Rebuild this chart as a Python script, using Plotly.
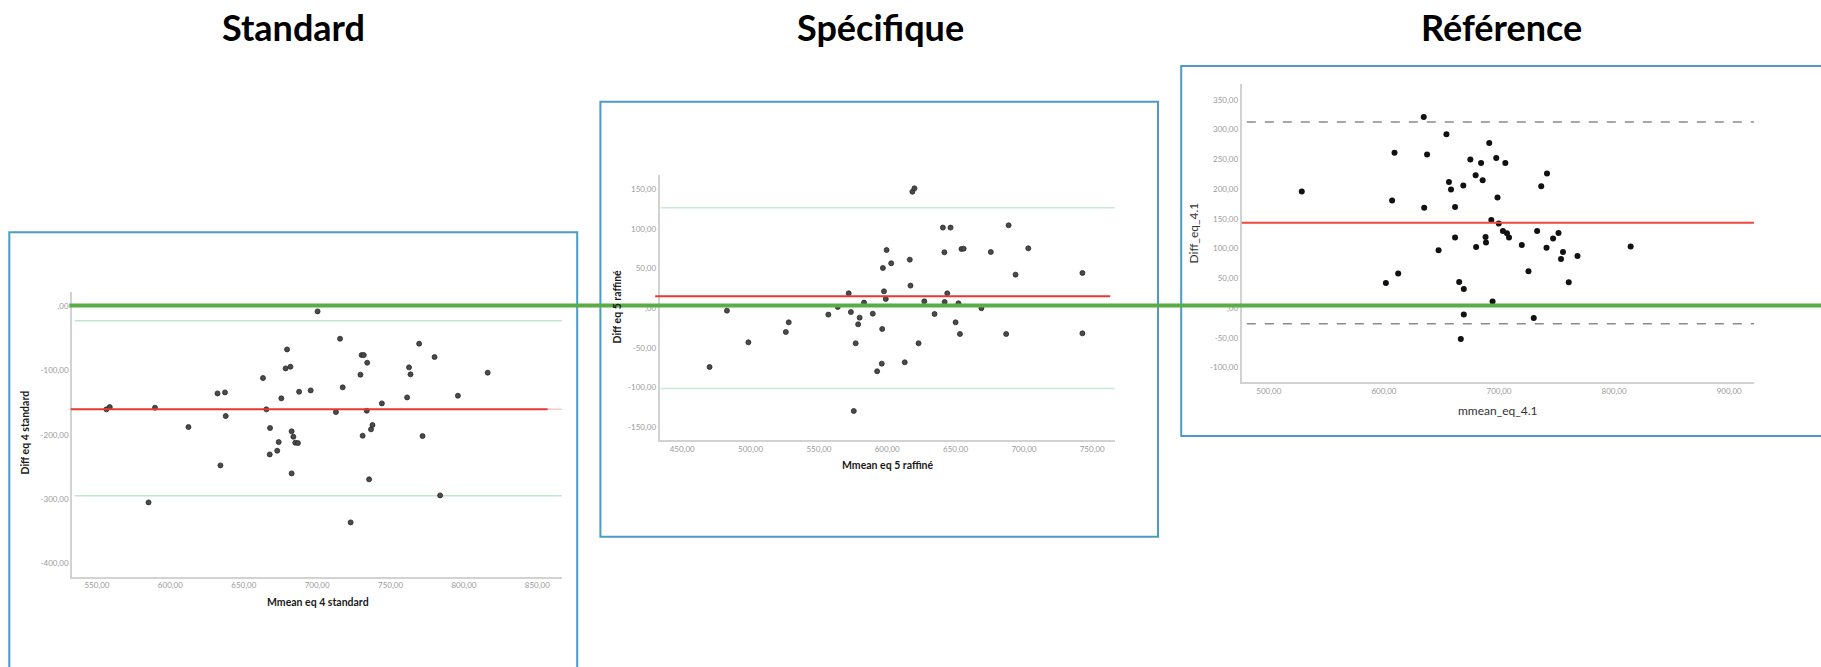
import plotly.graph_objects as go

W, H = 1821, 667

# ---------------- data ----------------
std_mean = [556.4, 558.7, 589.5, 585.1, 612.3, 632.1, 637.2, 637.7, 634.1, 663.1,
            665.4, 667.9, 667.7, 672.8, 673.8, 675.6, 678.5, 681.8, 679.5, 682.6,
            683.8, 685.1, 686.9, 682.6, 687.7, 695.6, 700.3, 712.8, 715.6, 717.4,
            722.8, 729.5, 730.3, 731.8, 734.1, 733.8, 731.0, 737.7, 736.7, 735.4,
            744.1, 761.3, 762.6, 763.6, 769.5, 771.8, 780.0, 783.8, 795.9, 816.2]
std_diff = [-160.6, -157.0, -158.0, -305.2, -188.1, -135.8, -134.2, -171.0, -247.7, -111.9,
            -160.6, -189.6, -230.6, -224.9, -211.4, -143.5, -96.9, -94.3, -67.4, -194.8,
            -203.1, -212.4, -213.0, -260.1, -133.2, -131.1, -8.3, -164.8, -50.8, -126.4,
            -336.3, -106.7, -76.2, -76.2, -88.1, -162.7, -201.6, -185.0, -191.7, -269.4,
            -151.3, -142.0, -95.3, -106.2, -58.5, -202.1, -79.3, -294.3, -139.4, -103.6]
std_bias = -160.6
std_loa = [-22.8, -294.8]

spe_mean = [470.0, 482.7, 498.4, 525.8, 527.9, 556.9, 563.8, 571.8, 573.4, 575.5,
            576.9, 578.7, 579.8, 583.0, 589.4, 592.6, 596.0, 596.3, 596.8, 597.6,
            598.9, 599.5, 602.9, 612.8, 616.5, 617.0, 618.4, 619.9, 622.9, 627.1,
            634.6, 640.7, 646.3, 641.8, 642.0, 643.9, 650.0, 652.1, 653.2, 654.3,
            655.9, 668.9, 675.8, 687.0, 688.8, 693.9, 703.2, 742.8, 742.8]
spe_diff = [-74.0, -3.1, -43.0, -30.0, -17.8, -8.1, 1.5, 18.7, -4.9, -129.4,
            -44.2, -20.3, -11.9, 7.0, -6.9, -79.4, -69.8, -26.2, 50.6, 21.2,
            11.6, 73.2, 56.5, -68.1, 61.1, 28.4, 146.6, 150.8, -44.2, 8.6,
            -7.3, 101.4, 101.4, 70.3, 7.8, 18.7, -17.8, 6.1, -32.5, 74.5,
            74.9, 0.0, 70.7, -32.5, 104.3, 42.2, 75.3, 44.3, -31.7]
spe_bias = 14.9
spe_loa = [126.5, -101.2]

ref_mean = [528.6, 601.7, 607.1, 609.2, 612.4, 634.6, 635.0, 637.5, 647.5, 654.3,
            656.5, 658.3, 661.8, 661.8, 665.4, 666.8, 669.0, 669.4, 669.4, 675.1,
            679.7, 680.1, 684.4, 685.8, 688.3, 688.7, 691.5, 693.3, 694.4, 697.6,
            698.7, 699.8, 703.4, 705.5, 706.9, 708.7, 719.8, 725.6, 730.2, 733.1,
            736.7, 741.3, 741.7, 747.0, 751.7, 753.9, 755.6, 760.6, 768.2, 814.4]
ref_diff = [195.9, 42.3, 180.7, 261.4, 58.0, 321.4, 168.9, 258.1, 97.2, 292.2,
            212.1, 199.2, 170.1, 118.5, 43.9, -51.8, 206.0, 32.2, -10.9, 249.7,
            223.4, 102.8, 244.1, 214.9, 119.6, 110.1, 277.7, 148.2, 10.9, 252.5,
            185.8, 142.1, 129.7, 244.1, 125.8, 118.5, 106.2, 61.9, -16.6, 129.7,
            204.8, 101.6, 226.1, 116.8, 126.3, 82.6, 94.4, 43.4, 87.7, 103.4]
ref_bias = 143.7
ref_loa = [313.0, -26.2]

titles = ["Standard", "Spécifique", "Référence"]
x_titles = ["Mmean eq 4 standard", "Mmean eq 5 raffiné", "mmean_eq_4.1"]
y_titles = ["Diff eq 4 standard", "Diff eq 5 raffiné", "Diff_eq_4.1"]

std_xticks = [550, 600, 650, 700, 750, 800, 850]
std_yticks = [-400, -300, -200, -100, 0]
spe_xticks = [450, 500, 550, 600, 650, 700, 750]
spe_yticks = [-150, -100, -50, 0, 50, 100, 150]
ref_xticks = [500, 600, 700, 800, 900]
ref_yticks = [-100, -50, 0, 50, 100, 150, 200, 250, 300, 350]


def fx(px):
    return px / W


def fy(py):
    return 1 - py / H


def fmt(v):
    if v == 0:
        return ",00"
    s = f"{abs(v):.2f}".replace(".", ",")
    return ("-" if v < 0 else "") + s


FONT = "Lato"
fig = go.Figure()

# axes placement in pixels: (left, right, top, bottom), data ranges
panels = [
    dict(px=(72.2, 561.8, 291.7, 576.7), xr=[533.1, 866.7], yr=[-420.7, 22.3],
         xt=std_xticks, yt=std_yticks, xs=std_mean, ys=std_diff),
    dict(px=(659.7, 1114.8, 175.0, 440.0), xr=[433.5, 766.5], yr=[-165.9, 167.6],
         xt=spe_xticks, yt=spe_yticks, xs=spe_mean, ys=spe_diff),
    dict(px=(1241.7, 1753.9, 84.3, 382.3), xr=[476.4, 921.5], yr=[-124.8, 376.3],
         xt=ref_xticks, yt=ref_yticks, xs=ref_mean, ys=ref_diff),
]

for i, p in enumerate(panels):
    n = "" if i == 0 else str(i + 1)
    l, r, t, b = p["px"]
    axis_common = dict(showline=True, linecolor="#d2d2d2", linewidth=2,
                       showgrid=False, zeroline=False, ticks="",
                       tickfont=dict(family=FONT, size=8, color="#9a9a9a"),
                       fixedrange=True)
    fig.update_layout(**{
        f"xaxis{n}": dict(domain=[fx(l), fx(r)], range=p["xr"], anchor=f"y{n}",
                          tickvals=p["xt"], ticktext=[fmt(v) for v in p["xt"]],
                          **axis_common),
        f"yaxis{n}": dict(domain=[fy(b), fy(t)], range=p["yr"], anchor=f"x{n}",
                          tickvals=p["yt"], ticktext=[fmt(v) for v in p["yt"]],
                          **axis_common),
    })
    if i < 2:
        marker = dict(size=5, color="#4a4a4a", line=dict(color="#2a2a2a", width=0.8))
    else:
        marker = dict(size=6, color="#111111")
    fig.add_trace(go.Scatter(x=p["xs"], y=p["ys"], mode="markers", marker=marker,
                             xaxis=f"x{n}", yaxis=f"y{n}", showlegend=False,
                             hoverinfo="skip"))

# limits of agreement and mean difference
for val in std_loa:
    fig.add_shape(type="line", xref="x domain", yref="y", x0=0.005, x1=1, y0=val, y1=val,
                  line=dict(color="#bfe8cc", width=1.5), layer="below")
fig.add_shape(type="line", xref="x domain", yref="y", x0=0.97, x1=1, y0=std_bias, y1=std_bias,
              line=dict(color="#f8c8c8", width=1.5), layer="below")
fig.add_shape(type="line", xref="x domain", yref="y", x0=-0.003, x1=0.971, y0=std_bias, y1=std_bias,
              line=dict(color="#e8392e", width=2))

for val in spe_loa:
    fig.add_shape(type="line", xref="x2 domain", yref="y2", x0=0.002, x1=1, y0=val, y1=val,
                  line=dict(color="#c5ecd2", width=1.5), layer="below")
fig.add_shape(type="line", xref="x2 domain", yref="y2", x0=-0.01, x1=0.99, y0=spe_bias, y1=spe_bias,
              line=dict(color="#e8392e", width=2))

for val in ref_loa:
    fig.add_shape(type="line", xref="x3 domain", yref="y3", x0=0.01, x1=1, y0=val, y1=val,
                  line=dict(color="#8a8a8a", width=1.5, dash="dash"), layer="below")
fig.add_shape(type="line", xref="x3 domain", yref="y3", x0=0, x1=1, y0=ref_bias, y1=ref_bias,
              line=dict(color="#ec4a3e", width=2))

# frames around each chart
frames = [(9.3, 577.2, 232.3, 690), (600.4, 1158.0, 101.7, 536.7), (1181.2, 1840, 66.0, 436.0)]
for l, r, t, b in frames:
    fig.add_shape(type="rect", xref="paper", yref="paper",
                  x0=fx(l), x1=fx(r), y0=fy(b), y1=fy(t),
                  line=dict(color="#4a9bc6", width=2), fillcolor="rgba(0,0,0,0)")

# highlighted zero line across the charts
fig.add_shape(type="line", xref="paper", yref="paper", x0=fx(69.3), x1=1.01,
              y0=fy(305.5), y1=fy(305.5), line=dict(color="#5aad45", width=4))

annotations = []
# chart headings
for txt, cx in zip(titles, [293.0, 880.0, 1501.5]):
    annotations.append(dict(text=f"<b>{txt}</b>", x=fx(cx), y=fy(27.5), xref="paper", yref="paper",
                            xanchor="center", yanchor="middle", showarrow=False,
                            font=dict(family=FONT, size=36, color="#000000")))
# axis titles
xt_pos = [(317.6, 602.3), (887.8, 465.0), (1498.0, 410.7)]
yt_pos = [(24.5, 433.0), (616.8, 306.7), (1193.5, 233.0)]
for i in range(3):
    bold = i < 2
    size = 10.5 if bold else 12
    col = "#1a1a1a" if bold else "#333333"
    tx = x_titles[i]
    ty = y_titles[i]
    annotations.append(dict(text=f"<b>{tx}</b>" if bold else tx,
                            x=fx(xt_pos[i][0]), y=fy(xt_pos[i][1]), xref="paper", yref="paper",
                            xanchor="center", yanchor="middle", showarrow=False,
                            font=dict(family=FONT, size=size, color=col)))
    annotations.append(dict(text=f"<b>{ty}</b>" if bold else ty, textangle=-90,
                            x=fx(yt_pos[i][0]), y=fy(yt_pos[i][1]), xref="paper", yref="paper",
                            xanchor="center", yanchor="middle", showarrow=False,
                            font=dict(family=FONT, size=size, color=col)))

fig.update_layout(width=W, height=H, margin=dict(l=0, r=0, t=0, b=0),
                  paper_bgcolor="white", plot_bgcolor="white",
                  annotations=annotations, showlegend=False)

fig.write_html("out.html", config={"displayModeBar": False})
